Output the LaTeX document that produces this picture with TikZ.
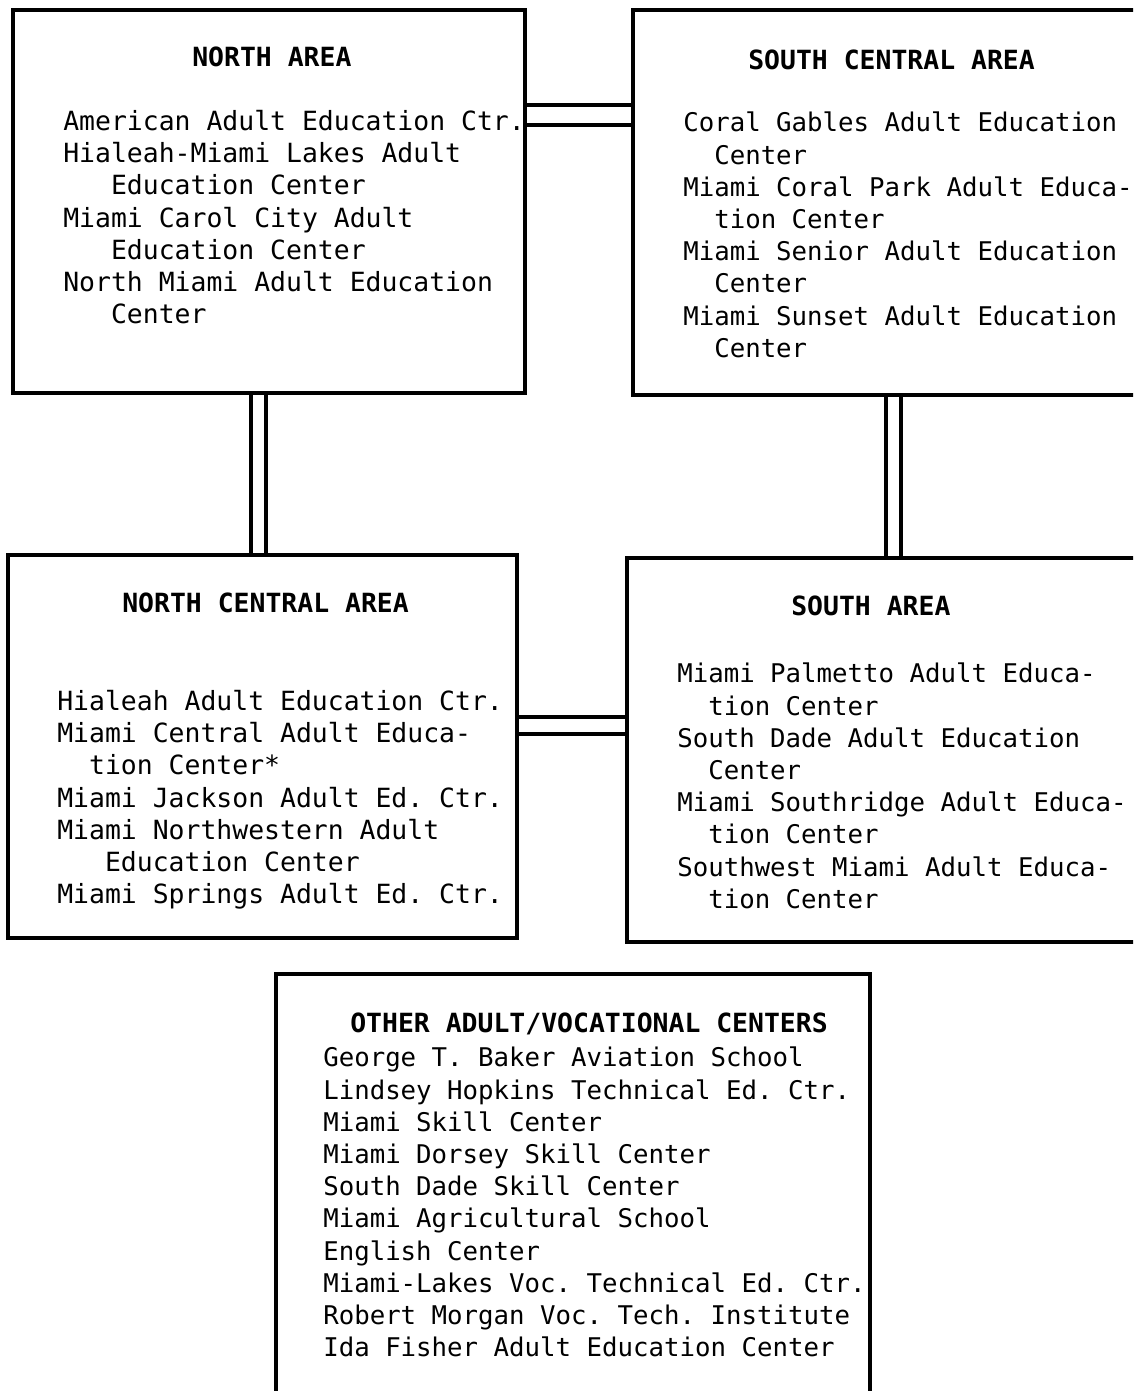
\documentclass[tikz,border=0pt]{standalone}
\usepackage{fontspec}
\newfontfamily\typefont{DejaVu Sans Mono}
\usetikzlibrary{fit,backgrounds}
\tikzstyle{areabox}=[rectangle,draw=black,line width=2.4pt,inner sep=0pt]
\tikzstyle{heading}=[anchor=base west,inner sep=0pt,
font=\typefont\bfseries\frenchspacing\fontsize{18.8}{22.9}\selectfont]
\tikzstyle{centers}=[anchor=north west,inner sep=0pt,align=left,
font=\typefont\frenchspacing\fontsize{18.8}{22.9}\selectfont]
\tikzstyle{narrow}=[font=\typefont\frenchspacing\fontsize{18.3}{22.9}\selectfont]
\tikzstyle{link}=[double,double distance=0.29cm,line width=2.4pt]
\newcommand{\indtwo}{\phantom{xx}}
\newcommand{\indthree}{\phantom{xxx}}

\begin{document}
\begin{tikzpicture}[x=0.025cm,y=-0.025cm]
            \useasboundingbox (0,0) rectangle (1133,1391);
            \clip (0,0) rectangle (1133,1391);

            % AREA BOXES

            \node[areabox,fit={(13,10) (525,393)}] (na) {};
            \node[areabox,fit={(633,10) (1170,395)}] (sc) {};
            \node[areabox,fit={(8,555) (517,938)}] (nc) {};
            \node[areabox,fit={(627,558) (1170,942)}] (sa) {};
            \node[areabox,fit={(276,974) (870,1430)}] (oc) {};

            % NORTH PART

            \node[heading] (na-title) at (192,67) {NORTH AREA};
            \node[centers] (na-list) at (63,110) {American Adult Education Ctr.\\
              Hialeah-Miami Lakes Adult\\ \indthree Education Center\\
              Miami Carol City Adult\\ \indthree Education Center\\
              North Miami Adult Education\\ \indthree Center};

            \node[heading] (sc-title) at (748,70) {SOUTH CENTRAL AREA};
            \node[centers,narrow] (sc-list) at (683,112) {Coral Gables Adult Education\\
              \indtwo Center\\ Miami Coral Park Adult Educa-\\ \indtwo tion Center\\
              Miami Senior Adult Education\\ \indtwo Center\\
              Miami Sunset Adult Education\\ \indtwo Center};

            % CENTRAL/SOUTH PART

            \node[heading] (nc-title) at (122,612) {NORTH CENTRAL AREA};
            \node[centers] (nc-list) at (57,690) {Hialeah Adult Education Ctr.\\
              Miami Central Adult Educa-\\ \indtwo tion Center*\\
              Miami Jackson Adult Ed. Ctr.\\ Miami Northwestern Adult\\
              \indthree Education Center\\ Miami Springs Adult Ed. Ctr.};

            \node[heading] (sa-title) at (791,615) {SOUTH AREA};
            \node[centers,narrow] (sa-list) at (677,663) {Miami Palmetto Adult Educa-\\
              \indtwo tion Center\\ South Dade Adult Education\\ \indtwo Center\\
              Miami Southridge Adult Educa-\\ \indtwo tion Center\\
              Southwest Miami Adult Educa-\\ \indtwo tion Center};

            % OTHER CENTERS

            \node[heading] (oc-title) at (350,1032) {OTHER ADULT/VOCATIONAL CENTERS};
            \node[centers,narrow] (oc-list) at (323,1047) {George T. Baker Aviation School\\
              Lindsey Hopkins Technical Ed. Ctr.\\ Miami Skill Center\\
              Miami Dorsey Skill Center\\ South Dade Skill Center\\
              Miami Agricultural School\\ English Center\\
              Miami-Lakes Voc. Technical Ed. Ctr.\\
              Robert Morgan Voc. Tech. Institute\\
              Ida Fisher Adult Education Center};

            % Connections of Areas

            \begin{scope}[on background layer]
            \draw[link,double distance=0.415cm] (na.east |- 0,115) -- (sc.west |- 0,115);
            \draw[link] (na.south -| 258.5,0) -- (nc.north -| 258.5,0);
            \draw[link] (sc.south -| 893.5,0) -- (sa.north -| 893.5,0);
            \draw[link,double distance=0.34cm] (nc.east |- 0,725.5) -- (sa.west |- 0,725.5);
            \end{scope}

\end{tikzpicture}
\end{document}
